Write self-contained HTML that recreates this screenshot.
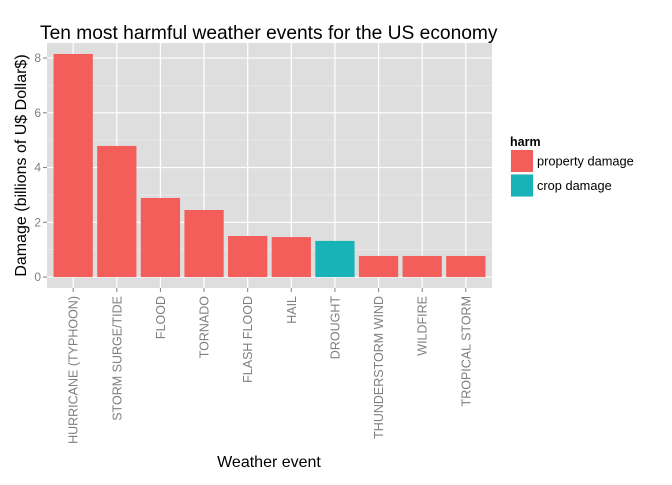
<!DOCTYPE html>
<html><head><meta charset="utf-8"><style>
body{margin:0;background:#fff;font-family:"Liberation Sans",sans-serif}
</style></head><body>
<svg width="672" height="480" font-family="Liberation Sans, sans-serif">
</svg>
<script>
const categories=["HURRICANE (TYPHOON)","STORM SURGE/TIDE","FLOOD","TORNADO","FLASH FLOOD","HAIL","DROUGHT","THUNDERSTORM WIND","WILDFIRE","TROPICAL STORM"];
const values=[8.15,4.79,2.89,2.45,1.5,1.46,1.32,0.77,0.77,0.77];
const harm=["property damage","property damage","property damage","property damage","property damage","property damage","crop damage","property damage","property damage","property damage"];
const yTicks=[0,2,4,6,8];
const legendLabels=["property damage","crop damage"];
const colors={"property damage":"#F35E5A","crop damage":"#17B3B7"};
const ns="http://www.w3.org/2000/svg";
const svg=document.querySelector('svg');
const L=47,R=492,T=43,B=288;
const xs=i=>L+(i+1-0.4)/10.2*(R-L);
const ys=v=>B-(v+0.4)/8.95*(B-T);
function mk(t,a,p){const e=document.createElementNS(ns,t);for(const k in a)e.setAttribute(k,a[k]);(p||svg).appendChild(e);return e;}
const bg=mk('rect',{x:L,y:T,width:R-L,height:B-T,fill:'#DEDEDE'});


for(let j=0;j<yTicks.length-1;j++){const v=(yTicks[j]+yTicks[j+1])/2;const g=mk('line',{x1:L,x2:R,y1:ys(v),y2:ys(v),stroke:'#EDEDED','stroke-width':0.6});

}
yTicks.forEach(v=>{const g=mk('line',{x1:L,x2:R,y1:ys(v),y2:ys(v),stroke:'#fff','stroke-width':1.2});


const tk=mk('line',{x1:L-4,x2:L,y1:ys(v),y2:ys(v),stroke:'#7f7f7f','stroke-width':1});


const t=mk('text',{x:L-6,y:ys(v)+4,'text-anchor':'end','font-size':12,fill:'#7f7f7f'});t.textContent=v;

});
categories.forEach((c,i)=>{const x=xs(i);
const g=mk('line',{x1:x,x2:x,y1:T,y2:B,stroke:'#fff','stroke-width':1.2});


const bw=0.9/10.2*(R-L);
const b=mk('rect',{x:x-bw/2,y:ys(values[i]),width:bw,height:ys(0)-ys(values[i]),fill:colors[harm[i]]});


const tk=mk('line',{x1:x,x2:x,y1:B,y2:B+4,stroke:'#7f7f7f','stroke-width':1});


const t=mk('text',{x:0,y:0,'text-anchor':'end','font-size':12.5,fill:'#7f7f7f',transform:`translate(${x+4.5},${B+8}) rotate(-90)`});t.textContent=c;

});
const title=mk('text',{x:40,y:39,'font-size':19.2,fill:'#000'});title.textContent='Ten most harmful weather events for the US economy';


const xt=mk('text',{x:(L+R)/2-0.5,y:467,'text-anchor':'middle','font-size':16,fill:'#000'});xt.textContent='Weather event';


const yt=mk('text',{x:0,y:0,'text-anchor':'middle','font-size':16,fill:'#000',transform:`translate(26,${(T+B)/2}) rotate(-90)`});yt.textContent='Damage (billions of U$ Dollar$)';


const lt=mk('text',{x:510,y:146,'font-size':12.5,'font-weight':'bold',fill:'#000'});lt.textContent='harm';


legendLabels.forEach((l,i)=>{const y=149+i*24.5;
const bx=mk('rect',{x:510,y:y,width:24,height:24,fill:'#F2F2F2',stroke:'#fff'});


const k=mk('rect',{x:511,y:y+1,width:22,height:22,fill:colors[l]});


const t=mk('text',{x:537,y:y+16.5,'font-size':12.8,fill:'#000'});t.textContent=l;

});
</script>
</body></html>
